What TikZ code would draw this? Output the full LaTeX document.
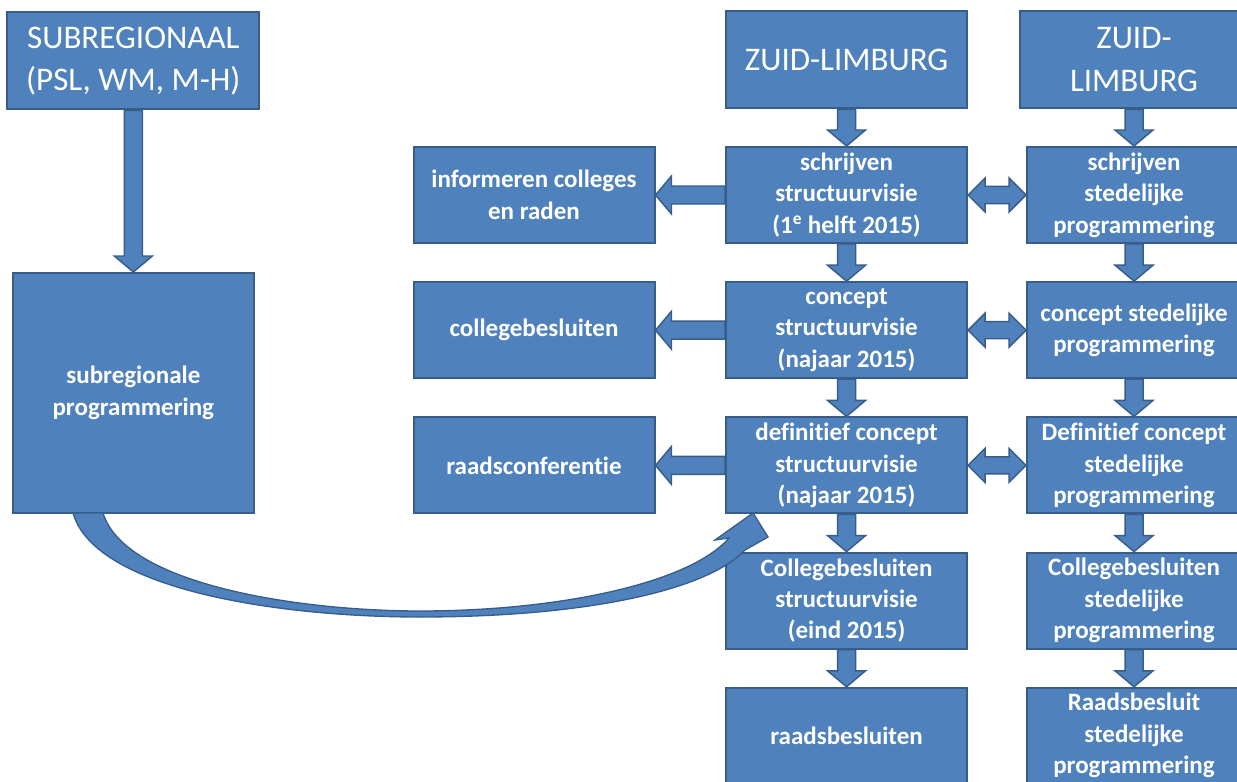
\documentclass[tikz,border=0pt]{standalone}
\usepackage{fontspec}
\setmainfont{Carlito}[Ligatures=CommonOff]
\usetikzlibrary{positioning,calc}
\definecolor{boxblue}{RGB}{79,129,189}
\definecolor{boxline}{RGB}{56,93,138}

\begin{document}
\begin{tikzpicture}[node distance =101.4pt, on grid,
box/.style={draw=boxline, fill=boxblue, line width=1.5pt, text=white,
  minimum width=180.75pt, minimum height=72pt, inner sep=2pt, align=center,
  font=\fontsize{18.75pt}{23.6pt}\selectfont\bfseries},
sidebox/.style={box, minimum width=160.5pt},
title/.style={box, minimum height=72.75pt,
  font=\fontsize{24.75pt}{32pt}\selectfont},
flow/.style={fill=boxblue, draw=boxline, line width=1.1pt, line join=miter,
  to path={let \p1=(\tikztostart), \p2=(\tikztotarget),
    \p3=($(\p2)!12pt!(\p1)$) in
    ($(\p1)!6.75pt!90:(\p2)$) -- ($(\p3)!6.75pt!90:(\p2)$)
    -- ($(\p3)!14.25pt!90:(\p2)$) -- (\p2) -- ($(\p3)!14.25pt!-90:(\p2)$)
    -- ($(\p3)!6.75pt!-90:(\p2)$) -- ($(\p1)!6.75pt!-90:(\p2)$) -- cycle}},
twoway/.style={fill=boxblue, draw=boxline, line width=1.1pt, line join=miter,
  to path={let \p1=(\tikztostart), \p2=(\tikztotarget),
    \p3=($(\p2)!12.75pt!(\p1)$), \p4=($(\p1)!12.75pt!(\p2)$) in
    (\p1) -- ($(\p4)!12.75pt!90:(\p2)$) -- ($(\p4)!6.4pt!90:(\p2)$)
    -- ($(\p3)!6.4pt!90:(\p2)$) -- ($(\p3)!12.75pt!90:(\p2)$) -- (\p2)
    -- ($(\p3)!12.75pt!-90:(\p2)$) -- ($(\p3)!6.4pt!-90:(\p2)$)
    -- ($(\p4)!6.4pt!-90:(\p2)$) -- ($(\p4)!12.75pt!-90:(\p2)$) -- cycle}}]
\useasboundingbox (0,0) rectangle (927.75pt,-585.75pt);
\clip (0,0) rectangle (927.75pt,-585.75pt);

% middle column
\node [box] (m_1) at (634.9pt,-146.25pt) {schrijven\\structuurvisie\\(1\textsuperscript{e} helft 2015)};
\node [title] (m_0) [above = of m_1] {ZUID-LIMBURG};
\node [box] (m_2) [below = of m_1] {concept\\structuurvisie\\(najaar 2015)};
\node [box] (m_3) [below = of m_2] {definitief concept\\structuurvisie\\(najaar 2015)};
\node [box] (m_4) [below = of m_3] {Collegebesluiten\\structuurvisie\\(eind 2015)};
\node [box] (m_5) [below = of m_4] {raadsbesluiten};

% left column
\node [box] (l_1) [left = 234.4pt of m_1] {informeren colleges\\en raden};
\node [box] (l_2) [left = 234.4pt of m_2] {collegebesluiten};
\node [box] (l_3) [left = 234.4pt of m_3] {raadsconferentie};

% right column
\node [sidebox] (r_1) [right = 215.6pt of m_1] {schrijven\\stedelijke\\programmering};
\node [title, minimum width=171pt] (r_0) [above = of r_1] {ZUID-\\LIMBURG};
\node [sidebox] (r_2) [below = of r_1] {concept stedelijke\\programmering};
\node [sidebox] (r_3) [below = of r_2] {Definitief concept\\stedelijke\\programmering};
\node [sidebox] (r_4) [below = of r_3] {Collegebesluiten\\stedelijke\\programmering};
\node [sidebox] (r_5) [below = of r_4] {Raadsbesluit\\stedelijke\\programmering};

% subregional
\node [title, minimum width=189pt] (s_0) at (100pt,-45.75pt) {SUBREGIONAAL\\(PSL, WM, M-H)};
\node [box, minimum height=180pt] (s_1) [below = 249pt of s_0] {subregionale\\programmering};

\path [flow]
(s_0.south) to (s_1.north)
(m_0.south) to (m_1.north)
(m_1.south) to (m_2.north)
(m_2.south) to (m_3.north)
(m_3.south) to (m_4.north)
(m_4.south) to (m_5.north)
(r_0.south) to (r_1.north)
(r_1.south) to (r_2.north)
(r_2.south) to (r_3.north)
(r_3.south) to (r_4.north)
(r_4.south) to (r_5.north)
(m_1.west) to (l_1.east)
(m_2.west) to (l_2.east)
(m_3.west) to (l_3.east);
\path [twoway]
(m_1.east) to (r_1.west)
(m_2.east) to (r_2.west)
(m_3.east) to (r_3.west);

% curved arrow from s_1 to m_3
\draw [fill=boxblue, draw=boxline, line width=1pt, line join=miter]
(54.75pt,-384.75pt) .. controls (71.25pt,-442.5pt) and (210pt,-462.75pt) .. (315pt,-462.75pt)
.. controls (435pt,-462.75pt) and (528.75pt,-444pt) .. (558.75pt,-412.5pt)
-- (576pt,-402.75pt) -- (564.75pt,-384.75pt) -- (536.25pt,-405pt) -- (546.75pt,-403.5pt)
.. controls (517.5pt,-437.25pt) and (420pt,-458.25pt) .. (315pt,-458.25pt)
.. controls (225pt,-458.25pt) and (93.75pt,-438.75pt) .. (77.25pt,-384.75pt) -- cycle;
\end{tikzpicture}
\end{document}
